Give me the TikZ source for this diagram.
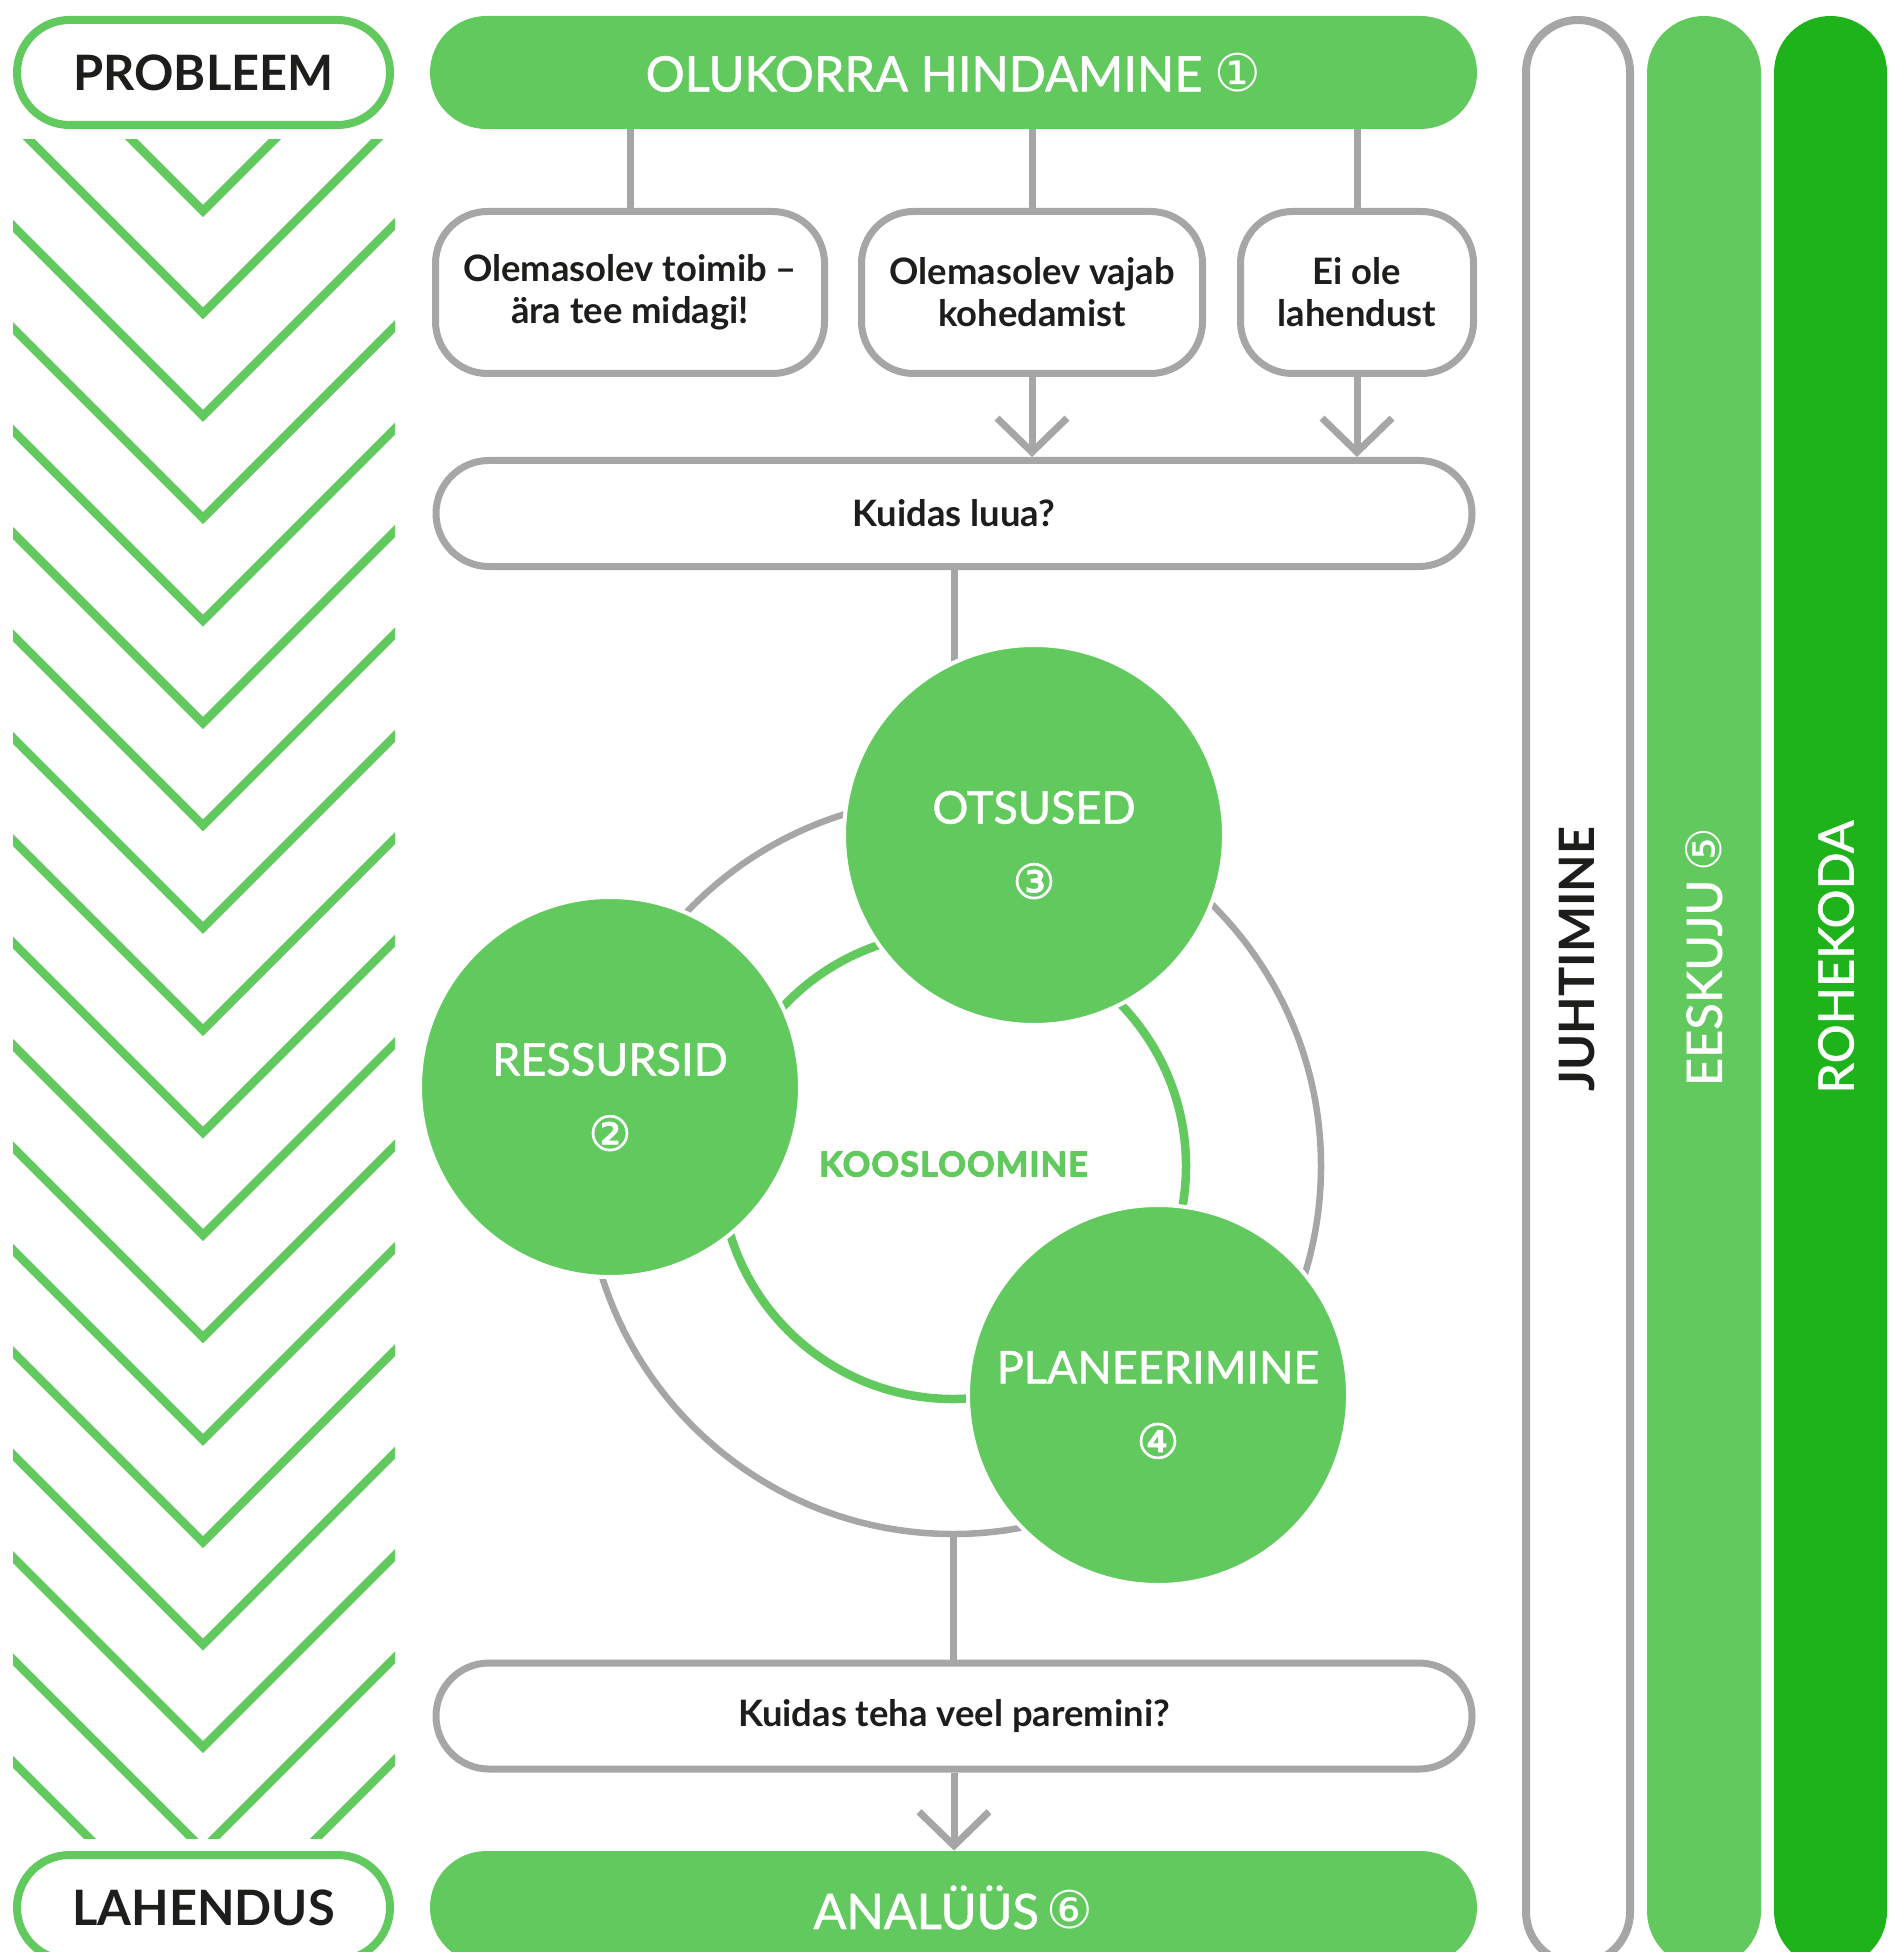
\documentclass[tikz,border=0pt]{standalone}
\usepackage{fontspec}
\setmainfont{Lato}
\newfontfamily\circfont{DejaVu Sans}
\newfontfamily\circboldfont[FakeBold=1.5]{DejaVu Sans}
\newfontfamily\medfont[FakeBold=1.2]{Lato}
\newfontfamily\heavyfont[LetterSpace=3,BoldFeatures={FakeBold=3}]{Lato}
\usetikzlibrary{shapes.misc,arrows.meta}

\definecolor{lgreen}{RGB}{97,201,94}
\definecolor{dgreen}{RGB}{31,179,27}
\definecolor{lgray}{RGB}{166,166,166}
\definecolor{ink}{RGB}{29,29,27}

\newcommand{\circnum}[1]{{\circfont #1}}
\newcommand{\stagenum}[1]{{\fontsize{24}{24}\selectfont\circboldfont #1}}

\begin{document}
\begin{tikzpicture}[x=0.5pt, y=-0.5pt, line join = round,
    pillbox/.style={rounded rectangle, draw=lgreen, line width=4pt, fill=white,
      minimum width=186.5pt, minimum height=52.5pt, inner sep=0pt, text=ink,
      font=\fontsize{24.4}{28}\selectfont\bfseries},
    phasebar/.style={rounded rectangle, fill=lgreen, minimum width=523.5pt,
      minimum height=56.5pt, inner sep=0pt, text=white,
      font=\fontsize{24.4}{28}\medfont},
    choicebox/.style={rectangle, rounded corners=26pt, draw=lgray, line width=3.5pt,
      fill=white, minimum height=81pt, inner sep=0pt, align=center, text=ink,
      font=\fontsize{18.2}{21}\selectfont\bfseries},
    questionbox/.style={rounded rectangle, draw=lgray, line width=3.5pt, fill=white,
      minimum width=518pt, minimum height=53pt, inner sep=0pt, text=ink,
      font=\fontsize{18.2}{21}\selectfont\bfseries},
    stagedisc/.style={circle, fill=lgreen, draw=white, line width=2pt,
      minimum size=190pt, inner sep=0pt},
    stagetext/.style={align=center, text=white, inner sep=0pt,
      font=\fontsize{22.5}{22.5}\medfont},
    sidebar/.style={rounded rectangle, rotate=90, minimum width=976pt, inner sep=0pt},
    sidelabel/.style={rotate=90, font=\fontsize{24.4}{28}\medfont},
    link/.style={draw=lgray, line width=3.5pt},
    pointer/.style={link, -{Straight Barb[length=17pt, width=35pt]}}]

  \useasboundingbox (0,0) rectangle (1895,1952);
  \clip (0,0) rectangle (1895,1952);

  % chevrons
  \begin{scope}
    \clip (13,140) rectangle (395,1838);
    \foreach \k in {0,...,18}
      \draw[lgreen, line width=4.25pt, line join=miter]
        ({203-230},{211+102.4*\k-230}) -- (203,{211+102.4*\k}) -- ({203+230},{211+102.4*\k-230});
  \end{scope}

  \node[pillbox] (probleem) at (203.5,72.5) {PROBLEEM};
  \node[pillbox] (lahendus) at (203.5,1907.5) {LAHENDUS};

  % side bars
  \node[sidebar, draw=lgray, line width=4pt, fill=white, minimum width=972pt,
    minimum height=52pt] (juht) at (1578,992) {};
  \node[sidebar, fill=lgreen, minimum height=57pt] (eesk) at (1704,992) {};
  \node[sidebar, fill=dgreen, minimum height=56.5pt] (rohe) at (1830.5,992) {};
  \node[sidelabel, text=ink, font=\fontsize{24.4}{28}\selectfont\bfseries] (juhtlabel) at (1577,959) {JUHTIMINE};
  \node[sidelabel, text=white] (eesklabel) at (1704,957) {EESKUJU\,\circnum{⑤}};
  \node[sidelabel, text=white] (rohelabel) at (1836,957) {ROHEKODA};

  % main column
  \node[phasebar] (olukord) at (953.5,72.5) {OLUKORRA HINDAMINE {\fontsize{26}{28}\selectfont\circnum{①}}};
  \node[choicebox, minimum width=194.5pt] (toimib) at (630,292.5) {Olemasolev toimib --\\ära tee midagi!};
  \node[choicebox, minimum width=170.5pt] (kohenda) at (1032,292.5) {Olemasolev vajab\\kohedamist};
  \node[choicebox, minimum width=116.5pt] (eiole) at (1357,292.5) {Ei ole\\lahendust};
  \node[questionbox] (luua) at (954,513.5) {Kuidas luua?};

  \draw[link] (toimib.north |- olukord.south) -- (toimib.north);
  \draw[link] (kohenda.north |- olukord.south) -- (kohenda.north);
  \draw[link] (eiole.north |- olukord.south) -- (eiole.north);
  \draw[pointer] (kohenda.south) -- (kohenda.south |- luua.north);
  \draw[pointer] (eiole.south) -- (eiole.south |- luua.north);

  % cycle
  \coordinate (otsc) at (1034,835);
  \draw[link] (luua.south) -- (luua.south |- otsc);
  \node[circle, draw=lgray, line width=3.25pt, minimum size=368pt, inner sep=0pt] (ring) at (953,1166) {};
  \node[circle, draw=lgreen, line width=4.25pt, minimum size=233pt, inner sep=0pt] (koos) at (953,1166) {};
  \node[text=lgreen, font=\fontsize{17.2}{20}\heavyfont\bfseries] (kooslabel) at (953.5,1164) {KOOSLOOMINE};
  \node[stagedisc] (otsused) at (otsc) {};
  \node[stagedisc] (ressurss) at (610,1087) {};
  \node[stagedisc] (planeer) at (1158,1395) {};
  \node[stagetext] (otsustext) at ([yshift=-5pt]otsused.center) {OTSUSED\\[15pt]\stagenum{③}};
  \node[stagetext] (ressurtext) at ([yshift=-5pt]ressurss.center) {RESSURSID\\[15pt]\stagenum{②}};
  \node[stagetext] (planeertext) at ([yshift=-5pt]planeer.center) {PLANEERIMINE\\[15pt]\stagenum{④}};

  \node[questionbox] (parem) at (954,1716) {Kuidas teha veel paremini?};
  \node[phasebar] (analyys) at (953.5,1907.5) {ANALÜÜS\,{\fontsize{26}{28}\selectfont\circnum{⑥}}};
  \draw[link] (ring.south) -- (ring.south |- parem.north);
  \draw[pointer] (parem.south) -- (parem.south |- analyys.north);

\end{tikzpicture}
\end{document}
